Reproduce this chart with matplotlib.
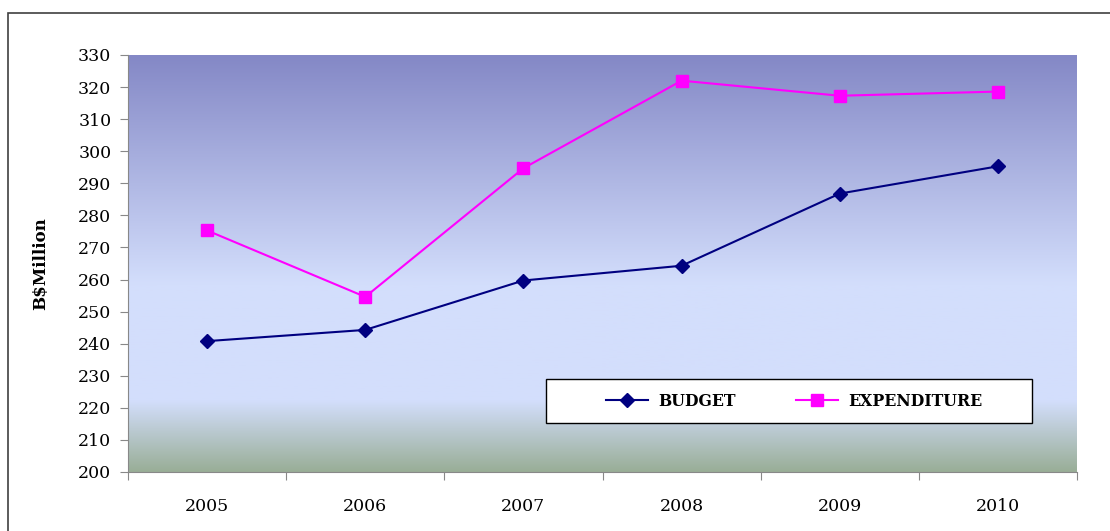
import numpy as np
import matplotlib.pyplot as plt
from matplotlib.colors import LinearSegmentedColormap
from matplotlib.patches import Rectangle

years = ['2005', '2006', '2007', '2008', '2009', '2010']
budget = [240.8, 244.3, 259.7, 264.3, 286.8, 295.3]
expenditure = [275.3, 254.6, 294.7, 322.0, 317.3, 318.6]

plt.rcParams['font.family'] = ['DejaVu Serif']

fig = plt.figure(figsize=(11.1, 5.31), dpi=100)
ax = fig.add_axes([128 / 1110, 1 - 472 / 531, 949 / 1110, 417 / 531])

# outer chart frame
fig.patches.append(Rectangle((8 / 1110, -0.05), 1.2, 1 - 13 / 531 + 0.05,
                             transform=fig.transFigure, fill=False,
                             edgecolor='#404040', linewidth=1.2))

# background gradient (top -> bottom)
cmap = LinearSegmentedColormap.from_list('bg', [
    (0.0, '#8488C6'), (0.55, '#D3DEFC'), (0.83, '#D3DEFC'), (1.0, '#99AE97')])
grad = np.linspace(0, 1, 256).reshape(-1, 1)
ax.imshow(grad, cmap=cmap, aspect='auto', extent=(-0.5, 5.5, 200, 330),
          origin='upper', zorder=0)

x = np.arange(len(years))
ax.plot(x, budget, color='#000080', marker='D', markersize=7, linewidth=1.5,
        label='BUDGET', zorder=3)
ax.plot(x, expenditure, color='#FF00FF', marker='s', markersize=9,
        linewidth=1.5, label='EXPENDITURE', zorder=3)

ax.set_xlim(-0.5, 5.5)
ax.set_ylim(200, 330)
ax.set_yticks(range(200, 331, 10))
ax.set_xticks(np.arange(-0.5, 5.6, 1))
ax.set_xticklabels([])
ax.set_xticks(x, minor=True)
ax.set_xticklabels(years, minor=True)
ax.tick_params(axis='x', which='minor', length=0, pad=19, labelsize=12.5)
ax.tick_params(axis='x', which='major', length=6, color='#888888', direction='out')
ax.tick_params(axis='y', length=6, color='#888888', labelsize=12.5, pad=6)

for side in ['top', 'right']:
    ax.spines[side].set_visible(False)
for side in ['left', 'bottom']:
    ax.spines[side].set_color('#888888')

ax.set_ylabel('B$Million', fontweight='bold', fontsize=12, labelpad=21)

# legend box
ax.add_patch(Rectangle((418 / 949, 49 / 417), 486 / 949, 44 / 417,
                       transform=ax.transAxes, facecolor='white',
                       edgecolor='black', linewidth=1.0, zorder=4))
leg = ax.legend(loc='center', ncol=2, bbox_to_anchor=(0.7018, 0.170),
                frameon=False, handlelength=2.7, handletextpad=0.65,
                columnspacing=3.8, prop={'weight': 'bold', 'size': 11.3})
leg.set_zorder(5)

fig.savefig('out.png', dpi=100)
